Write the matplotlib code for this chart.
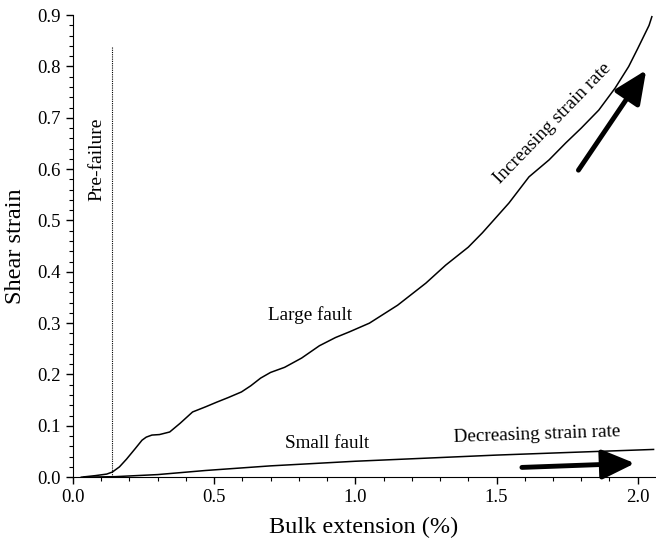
import numpy as np
import matplotlib.pyplot as plt
from matplotlib.ticker import MultipleLocator

plt.rcParams['font.family'] = ['Liberation Serif', 'DejaVu Serif']

# Large fault shear strain vs bulk extension
ext_large = [0.03, 0.08, 0.12, 0.14, 0.165, 0.19, 0.22, 0.245, 0.26, 0.28, 0.307, 0.343,
             0.38, 0.424, 0.47, 0.509, 0.55, 0.597, 0.63, 0.665, 0.70, 0.75, 0.81, 0.873,
             0.93, 0.979, 1.05, 1.15, 1.25, 1.32, 1.4, 1.45, 1.544, 1.615, 1.686,
             1.745, 1.8, 1.862, 1.92, 1.968, 2.0, 2.04, 2.05]
shear_large = [0.0, 0.003, 0.006, 0.01, 0.02, 0.035, 0.055, 0.072, 0.078, 0.082, 0.083,
               0.088, 0.105, 0.127, 0.137, 0.146, 0.155, 0.166, 0.178, 0.193, 0.204, 0.214,
               0.232, 0.256, 0.272, 0.283, 0.30, 0.335, 0.378, 0.413, 0.448, 0.476,
               0.534, 0.585, 0.618, 0.651, 0.68, 0.715, 0.758, 0.80, 0.835, 0.88, 0.897]

# Small fault
ext_small = [0.04, 0.15, 0.3, 0.47, 0.7, 1.0, 1.25, 1.5, 1.75, 2.056]
shear_small = [0.0, 0.001, 0.005, 0.013, 0.022, 0.031, 0.037, 0.043, 0.048, 0.054]

failure_ext = 0.14
failure_top = 0.84

fig = plt.figure(figsize=(6.56, 5.41), dpi=100)
ax = fig.add_axes([0.111, 0.118, 0.887, 0.854])

ax.plot(ext_large, shear_large, color='black', lw=1.1)
ax.plot(ext_small, shear_small, color='black', lw=1.1)
ax.plot([failure_ext, failure_ext], [0, failure_top], color='black', lw=0.8, ls=(0, (1, 1)))

ax.set_xlim(0, 2.06)
ax.set_ylim(0, 0.9)
ax.spines['top'].set_visible(False)
ax.spines['right'].set_visible(False)
ax.xaxis.set_major_locator(MultipleLocator(0.5))
ax.xaxis.set_minor_locator(MultipleLocator(0.1))
ax.yaxis.set_major_locator(MultipleLocator(0.1))
ax.yaxis.set_minor_locator(MultipleLocator(0.02))
ax.xaxis.set_major_formatter(plt.FormatStrFormatter('%.1f'))
ax.yaxis.set_major_formatter(plt.FormatStrFormatter('%.1f'))
ax.tick_params(which='major', length=5, width=1, labelsize=13.5)
ax.tick_params(which='minor', length=3, width=0.8)
ax.set_xlabel('Bulk extension (%)', fontsize=17.5, labelpad=8)
ax.set_ylabel('Shear strain', fontsize=17.5, labelpad=8)

ax.text(0.085, 0.62, 'Pre-failure', rotation=90, ha='center', va='center', fontsize=14)
ax.text(0.84, 0.316, 'Large fault', ha='center', va='center', fontsize=13.8)
ax.text(0.90, 0.066, 'Small fault', ha='center', va='center', fontsize=13.8)
ax.text(1.643, 0.082, 'Decreasing strain rate', ha='center', va='center', fontsize=13.8,
        rotation=2)
ax.text(1.70, 0.69, 'Increasing strain rate', ha='center', va='center', fontsize=13.8,
        rotation=46, rotation_mode='anchor')

arrow_style = dict(arrowstyle='-|>,head_length=2.0,head_width=0.9', color='black',
                   lw=3.5, shrinkA=0, shrinkB=0)
ax.annotate('', xy=(1.99, 0.027), xytext=(1.59, 0.019), arrowprops=arrow_style)
ax.annotate('', xy=(2.03, 0.793), xytext=(1.79, 0.598), arrowprops=arrow_style)

fig.savefig('out.png', dpi=100)
